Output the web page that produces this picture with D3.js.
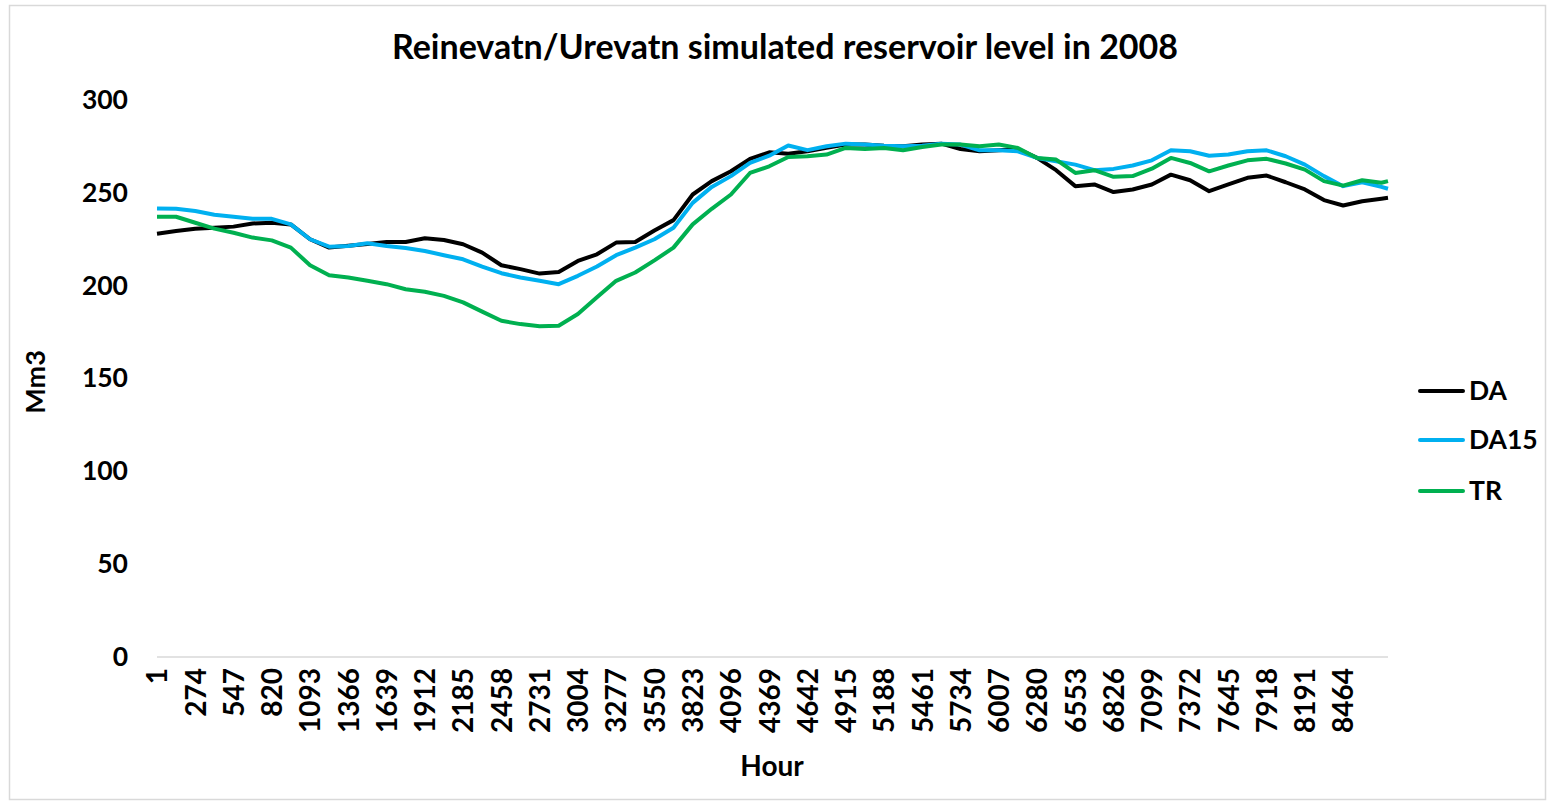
<!DOCTYPE html>
<html>
<head>
<meta charset="utf-8">
<script src="https://cdn.jsdelivr.net/npm/d3@7"></script>
<style>
  body { margin: 0; background: #fff; }
  text { font-family: Lato, "Liberation Sans", sans-serif; font-weight: bold; }
</style>
</head>
<body>
<div id="chart"></div>
<script>
// Data (hour -> reservoir volume, Mm3)
var hours = [1, 137, 274, 410, 547, 683, 820, 956, 1093, 1229, 1366, 1502, 1639, 1775, 1912, 2048,
  2185, 2321, 2458, 2594, 2731, 2867, 3004, 3140, 3277, 3413, 3550, 3686, 3823, 3959, 4096, 4232,
  4369, 4505, 4642, 4778, 4915, 5051, 5188, 5324, 5461, 5597, 5734, 5870, 6007, 6143, 6280, 6416,
  6553, 6689, 6826, 6962, 7099, 7235, 7372, 7508, 7645, 7781, 7918, 8054, 8191, 8327, 8464, 8600,
  8737, 8784];

var da = [228, 229.4, 230.7, 231.2, 231.8, 233.5, 233.9, 233, 225, 220.5, 221.5, 222.5, 223.5, 223.5, 225.5, 224.6,
  222.3, 217.8, 211, 208.9, 206.5, 207.4, 213.3, 216.9, 223.2, 223.5, 229.7, 235.3, 249.1, 256.3, 261.6, 268.3,
  271.8, 271.1, 272.4, 274.2, 276, 276, 275.4, 275.1, 276, 276.5, 273.6, 272.4, 272.9, 273.6, 268.8, 262.2,
  253.6, 254.5, 250.4, 251.8, 254.5, 259.8, 256.8, 250.9, 254.5, 258.1, 259.3, 255.7, 251.8, 246.1, 243.2, 245.5,
  246.8, 247.3];

var da15 = [241.6, 241.4, 240.2, 238.2, 237.1, 236, 236, 233, 225, 221, 221.4, 222.8, 221.4, 220.3, 218.7, 216.4,
  214.2, 210.3, 206.7, 204.4, 202.6, 200.8, 205.3, 210.3, 216.4, 220.5, 225, 231.2, 244.6, 253.2, 259, 266.1,
  270, 275.5, 273, 275.1, 276.5, 276, 275.4, 275.1, 275.4, 276.5, 276, 272.9, 272.9, 272.4, 268.8, 267,
  265.2, 262.2, 262.9, 264.7, 267.5, 272.9, 272.4, 270, 270.6, 272.4, 272.9, 269.7, 265.2, 259, 253.6, 255.7,
  253.2, 252.2];

var tr = [237.1, 237.1, 233.9, 230.7, 228.5, 225.9, 224.4, 220.5, 211, 205.6, 204.4, 202.6, 200.8, 198.1, 196.7, 194.5,
  191, 186, 181.1, 179.3, 178.1, 178.4, 184.7, 193.7, 202.6, 207.1, 213.6, 220.5, 233, 241.4, 249.1, 260.7,
  264.3, 269.3, 269.7, 270.6, 274.2, 273.6, 274.2, 272.9, 274.7, 276, 276, 275.1, 276, 274.2, 268.8, 267.9,
  260.7, 262.2, 258.6, 259, 263, 268.8, 266.1, 261.6, 264.7, 267.5, 268.3, 265.8, 262.5, 256.3, 253.9, 256.8,
  255.4, 256.3];

var xTickLabels = [1, 274, 547, 820, 1093, 1366, 1639, 1912, 2185, 2458, 2731, 3004, 3277, 3550, 3823, 4096,
  4369, 4642, 4915, 5188, 5461, 5734, 6007, 6280, 6553, 6826, 7099, 7372, 7645, 7918, 8191, 8464];
var yTickLabels = [0, 50, 100, 150, 200, 250, 300];

var seriesNames = ["DA", "DA15", "TR"];
var seriesColors = ["#000000", "#00B0F0", "#00B050"];
var seriesValues = [da, da15, tr];

// SVG area
var svgWidth = 1553;
var svgHeight = 806;

var svg = d3.select("#chart")
  .append("svg")
  .attr("width", svgWidth)
  .attr("height", svgHeight);

// chart border
svg.append("rect")
  .attr("x", 9.5)
  .attr("y", 5.5)
  .attr("width", 1536)
  .attr("height", 794)
  .attr("fill", "none")
  .attr("stroke", "#d9d9d9")
  .attr("stroke-width", 1.5);

// scales
var xScale = d3.scaleLinear()
  .domain([1, 8784])
  .range([157, 1388]);

var yScale = d3.scaleLinear()
  .domain([0, 300])
  .range([657, 100]);

// title
svg.append("text")
  .attr("x", 785)
  .attr("y", 59)
  .attr("text-anchor", "middle")
  .attr("font-size", 34)
  .text("Reinevatn/Urevatn simulated reservoir level in 2008");

// y axis labels
var yAxis = svg.append("g")
  .attr("transform", "translate(157, 0)")
  .call(d3.axisLeft(yScale).tickValues(yTickLabels).tickSize(0).tickPadding(29));
yAxis.select(".domain").remove();
yAxis.selectAll("text")
  .attr("font-size", 26.5)
  .attr("font-family", "Lato, sans-serif")
  .attr("fill", "#000");

// x axis line
svg.append("line")
  .attr("x1", xScale(1))
  .attr("x2", xScale(8784))
  .attr("y1", yScale(0))
  .attr("y2", yScale(0))
  .attr("stroke", "#d9d9d9")
  .attr("stroke-width", 1.5);

// x axis labels (rotated)
var xAxis = svg.append("g")
  .attr("transform", `translate(0, ${yScale(0)})`)
  .call(d3.axisBottom(xScale).tickValues(xTickLabels).tickSize(0).tickFormat(d3.format("d")));
xAxis.select(".domain").remove();
xAxis.selectAll("text")
  .attr("font-size", 28)
  .attr("font-family", "Lato, sans-serif")
  .attr("fill", "#000")
  .attr("text-anchor", "end")
  .attr("dy", "0.35em")
  .attr("y", 0)
  .attr("transform", "translate(0, 11) rotate(-90)");

// axis titles
svg.append("text")
  .attr("x", 772)
  .attr("y", 776)
  .attr("text-anchor", "middle")
  .attr("font-size", 28)
  .text("Hour");

svg.append("text")
  .attr("transform", "translate(45, 382) rotate(-90)")
  .attr("text-anchor", "middle")
  .attr("font-size", 27)
  .text("Mm3");

// lines
var line = d3.line()
  .x(function (d, i) { return xScale(hours[i]); })
  .y(function (d) { return yScale(d); });

seriesValues.forEach(function (vals, k) {
  svg.append("path")
    .datum(vals)
    .attr("d", line)
    .attr("fill", "none")
    .attr("stroke", seriesColors[k])
    .attr("stroke-width", 4)
    .attr("stroke-linejoin", "round");
});

// legend
var legendY = [391, 440, 491];
seriesNames.forEach(function (name, k) {
  svg.append("line")
    .attr("x1", 1420)
    .attr("x2", 1463)
    .attr("y1", legendY[k])
    .attr("y2", legendY[k])
    .attr("stroke", seriesColors[k])
    .attr("stroke-width", 4)
    .attr("stroke-linecap", "round");
  svg.append("text")
    .attr("x", 1469)
    .attr("y", legendY[k])
    .attr("dy", "0.35em")
    .attr("font-size", 26.5)
    .text(name);
});
</script>
</body>
</html>
